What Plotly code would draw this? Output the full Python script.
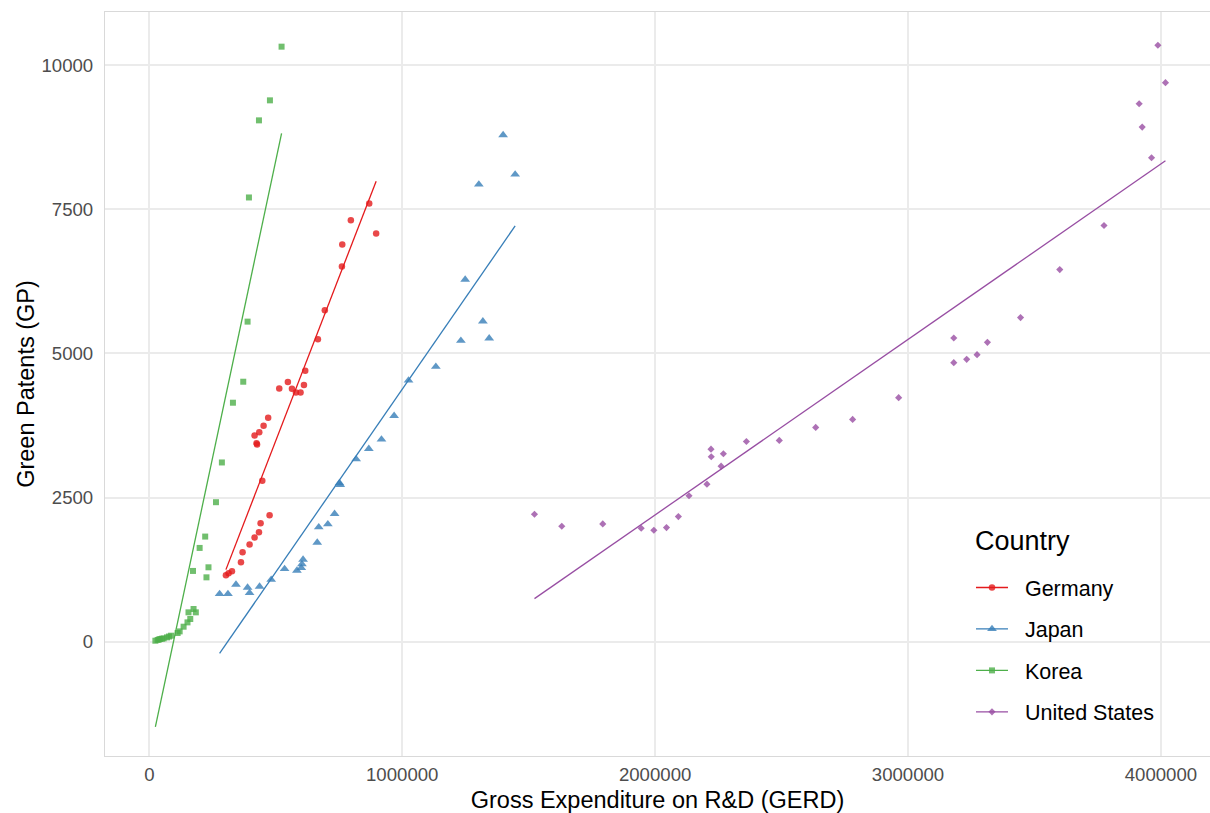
import numpy as np
import plotly.graph_objects as go

countries = ["Germany", "Japan", "Korea", "United States"]

germany_gerd = [303000, 313600, 326800, 362400, 368800, 396500, 416300, 433600, 440000, 475600,
                446700, 424000, 426000, 416300, 434800, 451900, 470000, 513800, 548000, 564000,
                579700, 598000, 611400, 616600, 666700, 694000, 761600, 763000, 797000, 869600, 897000]
germany_gp = [1151, 1186, 1220, 1377, 1550, 1684, 1806, 1898, 2054, 2193,
              2790, 3440, 3420, 3576, 3634, 3744, 3884, 4392, 4502, 4387,
              4323, 4323, 4450, 4699, 5243, 5747, 6505, 6887, 7309, 7599, 7078]

japan_gerd = [277900, 311000, 342700, 388600, 396500, 436000, 482000, 535000, 583700, 601000,
              603500, 608000, 664000, 670000, 706000, 732600, 752000, 755000, 818000, 868000,
              918000, 968000, 1025000, 1133000, 1232000, 1249000, 1319000, 1344000, 1303000,
              1399000, 1446600]
japan_gp = [828, 828, 990, 938, 845, 955, 1076, 1262, 1233, 1280,
            1345, 1424, 1719, 1985, 2037, 2217, 2750, 2720, 3165, 3345,
            3507, 3918, 4531, 4769, 5220, 6279, 5556, 5260, 7929,
            8785, 8102]

korea_gerd = [24000, 33000, 38000, 43500, 50000, 56700, 70000, 78000, 86000, 112000,
              120000, 135600, 151000, 162000, 155000, 184000, 175000, 226000, 172700, 234000,
              199000, 221000, 263600, 287000, 330700, 371500, 388600, 394000, 433600, 477000, 523000]
korea_gp = [17, 30, 38, 47, 52, 57, 75, 90, 104, 151,
            179, 260, 335, 394, 509, 509, 567, 1116, 1227, 1290,
            1626, 1823, 2419, 3108, 4144, 4508, 5550, 7703, 9040, 9387, 10318]

us_gerd = [1523000, 1631000, 1793000, 1945000, 1995000, 2045000, 2092000, 2134000, 2205000, 2221000,
           2222000, 2261000, 2270000, 2361000, 2491000, 2635000, 2781000, 2963000, 3181000, 3181000,
           3232000, 3273000, 3314000, 3445000, 3600000, 3775000, 3963000, 3926000, 3914000,
           3988000, 4018000]
us_gp = [2210, 2002, 2043, 1967, 1932, 1979, 2170, 2530, 2731, 3339,
         3207, 3044, 3259, 3472, 3490, 3715, 3854, 4231, 5266, 4839,
         4896, 4977, 5191, 5620, 6453, 7217, 8391, 8924, 9328,
         10342, 9693]

x_ticks = [0, 1000000, 2000000, 3000000, 4000000]
y_ticks = [0, 2500, 5000, 7500, 10000]

data = {
    "Germany": (germany_gerd, germany_gp),
    "Japan": (japan_gerd, japan_gp),
    "Korea": (korea_gerd, korea_gp),
    "United States": (us_gerd, us_gp),
}
colors = {"Germany": "#E41A1C", "Japan": "#377EB8", "Korea": "#4DAF4A", "United States": "#984EA3"}
symbols = {"Germany": "circle", "Japan": "triangle-up", "Korea": "square", "United States": "diamond"}
sizes = {"Germany": 6.5, "Japan": 8.5, "Korea": 6, "United States": 5.5}

fig = go.Figure()
for c in countries:
    xs, ys = data[c]
    xs_a = np.array(xs, dtype=float)
    ys_a = np.array(ys, dtype=float)
    slope, intercept = np.polyfit(xs_a, ys_a, 1)
    xl = np.array([xs_a.min(), xs_a.max()])
    yl = slope * xl + intercept
    fig.add_trace(go.Scatter(
        x=xs, y=ys, mode="markers", showlegend=False, legendgroup=c, hoverinfo="skip",
        marker=dict(color=colors[c], symbol=symbols[c], size=sizes[c], opacity=0.8,
                    line=dict(width=0))))
    fig.add_trace(go.Scatter(
        x=xl, y=yl, mode="lines", showlegend=False, legendgroup=c,
        line=dict(color=colors[c], width=1.3)))
    fig.add_trace(go.Scatter(
        x=[None], y=[None], mode="lines+markers", name="\u00a0\u00a0" + c, legendgroup=c,
        line=dict(color=colors[c], width=1.3),
        marker=dict(color=colors[c], symbol=symbols[c], size=sizes[c], opacity=0.8)))

axis_common = dict(
    showgrid=True, gridcolor="#EBEBEB", gridwidth=1.6,
    zeroline=False, showline=True, linecolor="#D9D9D9", linewidth=1.2,
    tickfont=dict(family="Liberation Sans, Arial, sans-serif", size=18.6, color="#4D4D4D"),
    ticks="", automargin=False,
)

# legend backdrop (above grid, below data)
fig.add_shape(type="rect", xref="paper", yref="paper", x0=0.7321, x1=1.0, y0=0.0255, y1=0.3374,
              fillcolor="white", line=dict(width=0), layer="between")

fig.add_annotation(text="Country", xref="paper", yref="paper", x=0.7852, y=0.289,
                   xanchor="left", yanchor="middle", showarrow=False,
                   font=dict(family="Liberation Sans, Arial, sans-serif", size=27, color="black"))

fig.update_layout(
    width=1210, height=813,
    margin=dict(l=105, r=0, t=12, b=57),
    paper_bgcolor="white", plot_bgcolor="white",
    font=dict(family="Liberation Sans, Arial, sans-serif", color="black"),
    xaxis=dict(range=[-175168, 4194100], tickvals=x_ticks, tickformat="d", mirror=True,
               title=dict(text="Gross Expenditure on R&D (GERD)", font=dict(size=23.5), standoff=8),
               ticklabelstandoff=2, **axis_common),
    yaxis=dict(range=[-1982, 10919], tickvals=y_ticks, tickformat="d", mirror=False,
               title=dict(text="Green Patents (GP)", font=dict(size=23.5), standoff=0),
               ticklabelstandoff=7, **axis_common),
    legend=dict(
        x=0.7837, y=0.254, xanchor="left", yanchor="top",
        bgcolor="rgba(0,0,0,0)", borderwidth=0,
        font=dict(size=21.5),
        traceorder="grouped", tracegroupgap=10.5, itemwidth=32,
    ),
)

fig.write_html("out.html", config={"displayModeBar": False},
               post_script="document.body.style.margin='0px';")
